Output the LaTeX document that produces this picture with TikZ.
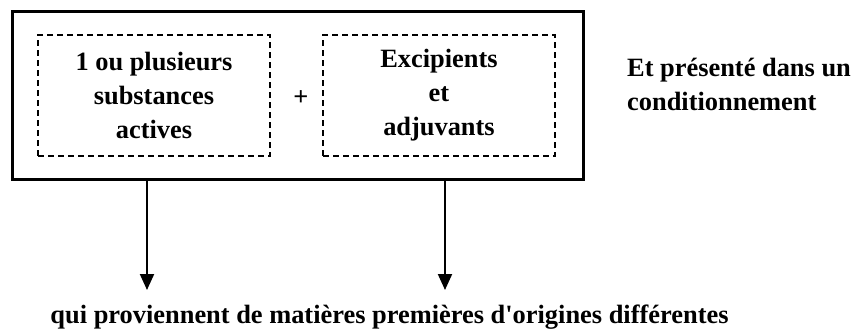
\documentclass[tikz,border=0pt]{standalone}
\usepackage{fontspec}
\setmainfont{Liberation Serif}
\usetikzlibrary{positioning}
\usetikzlibrary{arrows.meta}

\begin{document}
\begin{tikzpicture}[x=1pt, y=-1pt,
    txt/.style={font=\fontsize{26.4}{34}\selectfont\bfseries, align=center, inner sep=0pt},
    outer/.style={draw, line width=3pt, minimum width=571pt, minimum height=168pt},
    part/.style={draw, dashed, line width=1.5pt, dash pattern=on 6pt off 4pt, minimum width=232pt, minimum height=121pt},
    arrow/.style={-{Triangle[width=14pt,length=16pt]}, line width=2pt},
]
\useasboundingbox (0,0) rectangle (855,330);

\node[outer] (medic) at (297.5,95) {};
\node[part, txt] (actives) at (154,95.5) {1 ou plusieurs\\substances\\actives};
\node[part, txt] (excip) at (439,95.5) {Excipients\\et\\adjuvants};
\node[txt] (plus) at (301,98) {+};

\node[txt, align=left, anchor=west] (condit) at (627,84) {Et présenté dans un\\conditionnement};

\node[txt, anchor=base] (origine) at (389.5,323) {qui proviennent de matières premières d\textquotesingle origines différentes};

\coordinate (tipL) at (147,290);
\coordinate (tipR) at (445,290);

\draw[arrow] (medic.south -| tipL) -- (tipL);
\draw[arrow] (medic.south -| tipR) -- (tipR);

\end{tikzpicture}
\end{document}
